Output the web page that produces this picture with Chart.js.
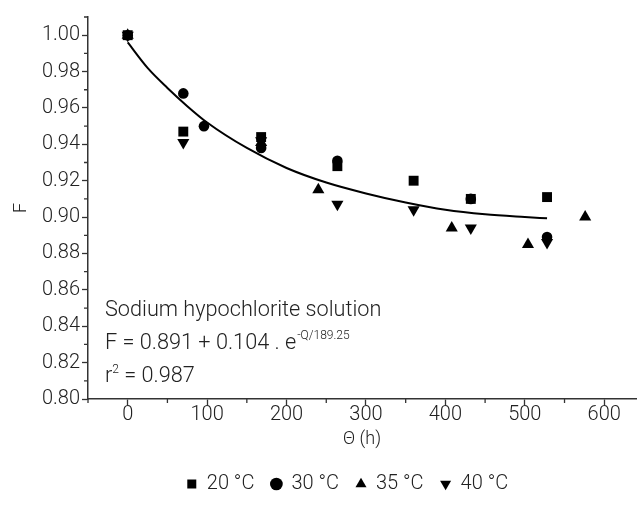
<!DOCTYPE html>
<html lang="en">
<head>
  <meta charset="UTF-8">
  <title>Sodium hypochlorite solution - F vs time</title>
  <style>
    html, body { margin: 0; padding: 0; background: #fff; }
    #wrap { width: 643px; height: 517px; }
  </style>
</head>
<body>
  <div id="wrap"><canvas id="chart" width="643" height="517"></canvas></div>

  <script src="https://cdn.jsdelivr.net/npm/chart.js"></script>
  <script>
    const hours20 = [0, 70, 168, 264, 360, 432, 528];
    const f20 = [1.000, 0.947, 0.944, 0.928, 0.920, 0.910, 0.911];

    const hours30 = [0, 70, 96, 168, 264, 432, 528];
    const f30 = [1.000, 0.968, 0.950, 0.938, 0.931, 0.910, 0.889];

    const hours35 = [0, 168, 240, 408, 504, 576];
    const f35 = [1.000, 0.941, 0.915, 0.894, 0.885, 0.900];

    const hours40 = [0, 70, 168, 264, 360, 432, 528];
    const f40 = [1.000, 0.941, 0.942, 0.907, 0.904, 0.894, 0.886];

    // fitted curve
    const fitHours = [0, 25, 50, 75, 100, 150, 200, 250, 300, 350, 400, 450, 500, 528];
    const fitF = [0.996, 0.982, 0.971, 0.961, 0.952, 0.938, 0.927, 0.919, 0.913, 0.908, 0.904, 0.9015, 0.9, 0.8993];

    const seriesLabels = ['20 °C', '30 °C', '35 °C', '40 °C'];

    const xTicks = [0, 100, 200, 300, 400, 500, 600];
    const xMinor = [-50, 50, 150, 250, 350, 450, 550];
    const yTicks = [0.80, 0.82, 0.84, 0.86, 0.88, 0.90, 0.92, 0.94, 0.96, 0.98, 1.00];
    const yMinor = [0.81, 0.83, 0.85, 0.87, 0.89, 0.91, 0.93, 0.95, 0.97, 0.99, 1.01];

    const FONT = 'Roboto, "Liberation Sans", sans-serif';
    const INK = '#222';

    function pts(xs, ys) {
      return xs.map((x, i) => ({ x: x, y: ys[i] }));
    }

    // short ticks between the labelled ones + the fit text block
    const extras = {
      id: 'extras',
      afterLayout(chart) {
        // legend sits a bit right of the canvas centre in the original
        chart.legend.left += 27;
        chart.legend.right += 27;
      },
      afterDraw(chart) {
        const ctx = chart.ctx;
        const xs = chart.scales.x;
        const ys = chart.scales.y;
        const area = chart.chartArea;
        ctx.save();
        ctx.strokeStyle = '#333';
        ctx.lineWidth = 1.3;
        ctx.beginPath();
        xMinor.forEach(v => {
          const px = xs.getPixelForValue(v);
          ctx.moveTo(px, area.bottom);
          ctx.lineTo(px, area.bottom + 4);
        });
        yMinor.forEach(v => {
          const py = ys.getPixelForValue(v);
          ctx.moveTo(area.left, py);
          ctx.lineTo(area.left - 4, py);
        });
        ctx.stroke();

        ctx.fillStyle = INK;
        ctx.textBaseline = 'middle';
        ctx.textAlign = 'left';
        const big = '300 21.7px ' + FONT;
        const small = '300 12px ' + FONT;
        const left = 105;
        ctx.font = big;
        ctx.fillText('Sodium hypochlorite solution', left, 311);

        let t = 'F = 0.891 + 0.104 . e';
        ctx.fillText(t, left, 344);
        let w = ctx.measureText(t).width;
        ctx.font = small;
        ctx.fillText('-Q/189.25', left + w + 1, 336);

        ctx.font = big;
        w = ctx.measureText('r').width;
        ctx.fillText('r', left, 377);
        ctx.font = small;
        ctx.fillText('2', left + w, 370);
        const w2 = ctx.measureText('2').width;
        ctx.font = big;
        ctx.fillText(' = 0.987', left + w + w2, 377);
        ctx.restore();
      }
    };

    const markerBase = {
      backgroundColor: '#000',
      borderColor: '#000',
      borderWidth: 0,
      pointHoverRadius: 6
    };

    new Chart(document.getElementById('chart'), {
      type: 'scatter',
      data: {
        datasets: [
          Object.assign({ label: seriesLabels[0], data: pts(hours20, f20), pointStyle: 'rect', pointRadius: 7 }, markerBase),
          Object.assign({ label: seriesLabels[1], data: pts(hours30, f30), pointStyle: 'circle', pointRadius: 5.3 }, markerBase),
          Object.assign({ label: seriesLabels[2], data: pts(hours35, f35), pointStyle: 'triangle', pointRadius: 7 }, markerBase),
          Object.assign({ label: seriesLabels[3], data: pts(hours40, f40), pointStyle: 'triangle', pointRotation: 180, pointRadius: 7 }, markerBase),
          {
            label: 'fit',
            type: 'line',
            data: pts(fitHours, fitF),
            showLine: true,
            borderColor: '#000',
            borderWidth: 2,
            pointRadius: 0,
            tension: 0.4,
            cubicInterpolationMode: 'monotone',
            fill: false
          }
        ]
      },
      options: {
        responsive: false,
        animation: false,
        layout: { padding: { top: 17, right: 2, left: 0, bottom: 13 } },
        plugins: {
          tooltip: { enabled: false },
          legend: {
            position: 'bottom',
            labels: {
              filter: item => item.text !== 'fit',
              usePointStyle: true,
              boxWidth: 10,
              boxHeight: 9,
              padding: 17,
              color: INK,
              font: { family: FONT, size: 20, weight: '300' }
            }
          }
        },
        scales: {
          x: {
            type: 'linear',
            min: -50,
            max: 640,
            afterBuildTicks: s => { s.ticks = xTicks.map(v => ({ value: v })); },
            afterFit: s => { s.height = 58; },
            ticks: {
              color: INK,
              padding: 0,
              font: { family: FONT, size: 20, weight: '300', lineHeight: 1 }
            },
            grid: { drawOnChartArea: false, tickLength: 6, tickColor: '#333', tickWidth: 1.3 },
            border: { color: '#333', width: 1.5 },
            title: {
              display: true,
              text: 'Θ (h)',
              color: INK,
              padding: { top: 0, bottom: 9 },
              font: { family: FONT, size: 18, weight: '300', lineHeight: 1 }
            }
          },
          y: {
            type: 'linear',
            min: 0.80,
            max: 1.01,
            afterBuildTicks: s => { s.ticks = yTicks.map(v => ({ value: v })); },
            afterFit: s => { s.width = 88; },
            ticks: {
              color: INK,
              padding: 2,
              callback: v => Number(v).toFixed(2),
              font: { family: FONT, size: 20, weight: '300' }
            },
            grid: { drawOnChartArea: false, tickLength: 6, tickColor: '#333', tickWidth: 1.3 },
            border: { color: '#333', width: 1.5 },
            title: {
              display: true,
              text: 'F',
              color: INK,
              padding: { top: 11, bottom: 0 },
              font: { family: FONT, size: 18, weight: '300' }
            }
          }
        }
      },
      plugins: [extras]
    });
  </script>
</body>
</html>
